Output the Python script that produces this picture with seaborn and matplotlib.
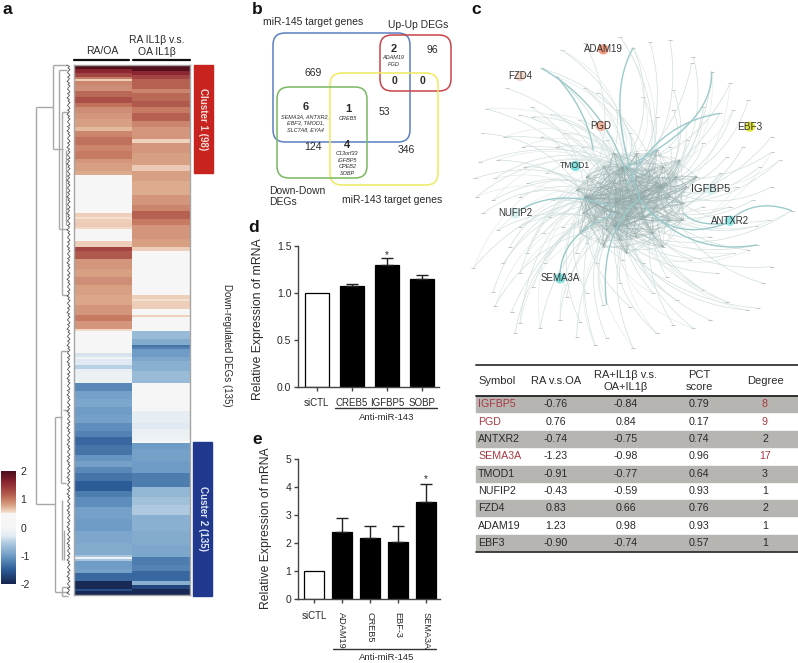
import numpy as np
import pandas as pd
import seaborn as sns
import matplotlib
matplotlib.use("Agg")
import matplotlib.pyplot as plt
from matplotlib.colors import LinearSegmentedColormap
from matplotlib.collections import LineCollection
from matplotlib.patches import FancyBboxPatch, Rectangle

sns.set_theme(style="white")
plt.rcParams['font.family'] = ['Liberation Sans', 'DejaVu Sans']

# ---------- panel a : heat map bands (value, number of rows) ----------
ra_vals = [1.95,1.6,1.35,1.0,.6,.95,.9,1.1,1.25,1.05,.9,.85,.8,.7,.95,1.05,.95,1.0,.85,.8,.75,0,.6,.52,.6,.62,.55,0,.6,
           1.35,1.2,.85,.8,.9,.8,.78,.85,1.0,.85,.55,0,-.35,-.1,-.3,-.5,-.2,-.15,
           -1.15,-.95,-.9,-1.0,-.95,-1.1,-1.2,-1.4,-1.3,-1.05,-.95,-1.15,-1.3,-1.5,-1.25,-1.1,-.95,-1.0,-.9,-.85,-.6,-.1,-.6,-1.0,-.95,-1.4,-1.95,-1.6,-1.95]
ra_rows = [2,2,2,1,1,2,3,3,3,2,3,3,4,2,3,4,3,4,2,4,2,19,2,1,2,2,1,6,3,
           2,4,5,4,4,5,5,5,3,4,1,11,2,1,3,2,2,5,
           4,4,4,4,4,4,3,4,5,3,3,3,4,5,3,5,6,6,6,6,1,1,1,4,2,4,4,1,2]
il_vals = [1.95,1.6,1.35,1.15,.95,1.1,1.2,1.0,1.15,.95,.85,.58,.85,.8,.62,.8,.75,.85,.95,1.15,1.0,.85,.8,.6,0,.6,.52,.6,0,.58,0,
           -.7,-.85,-1.3,-1.2,-1.0,-.9,-.8,-.7,0,-.25,-.3,-.2,-.1,0,
           -1.0,-.95,-1.0,-1.25,-.75,-.65,-.55,-.8,-.85,-.9,-1.25,-1.2,-1.4,-.8,-1.7,-1.95]
il_rows = [3,2,2,5,2,4,3,3,4,3,6,2,5,6,3,5,7,5,3,4,3,7,4,2,22,2,1,4,3,1,7,
           4,3,1,1,4,2,5,6,14,6,3,3,3,1,
           3,6,6,7,5,4,5,8,7,6,4,3,5,2,2,3]
col_labels = ["RA/OA", "RA IL1β v.s.\nOA IL1β"]
cbar_ticks = [2, 1, 0, -1, -2]
cbar_labels = ["2", "1", "0", "-1", "-2"]

# ---------- panel d / e ----------
d_genes = ["siCTL", "CREB5", "IGFBP5", "SOBP"]
d_vals = [1.0, 1.07, 1.30, 1.15]
d_errs = [0, .03, .07, .04]
e_genes = ["siCTL", "ADAM19", "CREB5", "EBF-3", "SEMA3A"]
e_vals = [1.0, 2.4, 2.17, 2.03, 3.45]
e_errs = [0, .5, .43, .57, .65]

# ---------- table ----------
tbl_head = ["Symbol", "RA v.s.OA", "RA+IL1β v.s.\nOA+IL1β", "PCT\nscore", "Degree"]
tbl_sym = ["IGFBP5", "PGD", "ANTXR2", "SEMA3A", "TMOD1", "NUFIP2", "FZD4", "ADAM19", "EBF3"]
tbl_ra = ["-0.76", "0.76", "-0.74", "-1.23", "-0.91", "-0.43", "0.83", "1.23", "-0.90"]
tbl_il = ["-0.84", "0.84", "-0.75", "-0.98", "-0.77", "-0.59", "0.66", "0.98", "-0.74"]
tbl_pct = ["0.79", "0.17", "0.74", "0.96", "0.64", "0.93", "0.76", "0.93", "0.57"]
tbl_deg = ["8", "9", "2", "17", "3", "1", "2", "1", "1"]
tbl_red = ["IGFBP5", "PGD", "SEMA3A"]

# ---------- network (zoomed coordinates) ----------
outer_nodes = [(275,150),(540,127),(490,143),(670,170),(725,215),(665,190),(385,278),(110,265),(345,265),(610,270),
 (50,327),(185,322),(245,343),(150,345),(190,350),(610,330),(700,320),(750,340),(790,330),(905,410),(905,457),(770,470),
 (650,420),(40,400),(105,410),(215,410),(285,400),(30,487),(85,480),(165,500),(160,440),(15,535),(75,535),(905,560),
 (965,632),(860,735),(858,678),(905,800),(835,750),(880,850),(830,930),(865,925),(770,905),(720,960),(670,985),(610,975),
 (560,1000),(480,920),(490,1045),(410,1015),(375,1035),(320,1010),(270,960),(330,965),(210,985),(135,1000),(150,970),
 (125,935),(75,918),(70,875),(10,805),(100,790),(170,760),(225,790),(85,690),(40,640),(70,600),(150,590),(20,590),
 (215,205),(260,230),(345,130),(450,110),(600,120),(780,250),(835,300),(820,440),(870,500),(930,480),(850,600),
 (800,560),(900,660),(790,760),(740,820),(700,870),(620,900),(550,880),(450,850),(400,915),(350,880),(290,890),
 (190,860),(150,820),(220,700),(150,680),(120,740),(240,650),(175,550),(230,520),(260,440),(330,360),(440,330),
 (520,290),(560,350),(650,370),(700,430),(750,520),(700,620),(780,620),(720,710),(660,780),(590,830),(520,790),
 (460,780),(380,790),(320,760),(350,730),(280,680),(250,600),(290,540),(340,440),(410,420),(480,400),(600,440)]
inner_nodes = [(460,500),(500,530),(540,510),(580,500),(620,530),(650,560),(600,590),(560,620),(520,650),(480,640),
 (440,640),(400,620),(360,600),(390,560),(430,550),(470,570),(530,570),(590,550),(640,610),(600,660),(550,700),(500,710),
 (450,720),(410,690),(370,670),(340,640),(320,570),(350,530),(400,500),(500,460),(560,450),(630,480),(680,530),(640,660),
 (580,740),(470,760),(400,740),(330,700),(430,460),(470,660)]
hubs = [(510,595),(440,605),(460,500),(575,560),(435,680),(345,590)]
thick_arcs = [(510,600,600,730,770,670),(770,670,850,590,965,632),(510,600,650,770,860,735),
 (510,595,385,700,410,915),(215,205,400,310,470,520),(260,230,350,330,370,450),(490,143,400,300,510,595),
 (725,215,730,370,470,500),(750,340,560,370,470,560),(440,640,270,700,270,830),(640,640,680,680,770,670),
 (135,640,250,560,430,620)]
named_nodes = ["ADAM19","FZD4","PGD","EBF3","TMOD1","IGFBP5","NUFIP2","ANTXR2","SEMA3A"]
named_x = [400,150,393,840,316,722,135,780,270]
named_y = [148,228,378,380,498,568,640,662,835]
named_col = ["#ef9a80","#f3d5c8","#f3b7a2","#e3e63a","#7fdede","#d5eeee","#d5f0f0","#8fe3e3","#7fe0e0"]
named_fs = [7,7,7,7.2,6.2,8,7,7,7]

W, H = 798, 663
fig = plt.figure(figsize=(W/100, H/100), dpi=100, facecolor="white")
def box(x0, y0, x1, y1, **kw):
    return fig.add_axes([x0/W, 1-y1/H, (x1-x0)/W, (y1-y0)/H], **kw)
TXT = "#2a2a2a"

# ---------- a ----------
cmap = LinearSegmentedColormap.from_list("rb", [
    (0.0, "#16244f"), (0.125, "#2c5c98"), (0.25, "#6e9cc6"), (0.375, "#b7cfe3"), (0.425, "#e2ebf2"),
    (0.5, "#f6f6f6"), (0.625, "#f6f6f6"), (0.63, "#f5e0d2"), (0.67, "#e6bda3"), (0.70, "#d9a283"), (0.72, "#d0917a"),
    (0.75, "#c67c62"), (0.80, "#b0584c"), (0.90, "#8c2530"), (1.0, "#4a0d1a")])
heat = pd.DataFrame({"RA/OA": np.repeat(ra_vals, ra_rows), "RA IL1b": np.repeat(il_vals, il_rows)})
ax_h = box(74, 65, 190, 595)
ax_c = box(1, 471, 16, 584)
sns.heatmap(heat, ax=ax_h, cmap=cmap, vmin=-2, vmax=2, cbar_ax=ax_c, xticklabels=False, yticklabels=False)
ax_h.set_xlabel(""); ax_h.set_ylabel("")
for s in ax_h.spines.values():
    s.set_visible(True); s.set_color("#a5a5a5"); s.set_linewidth(1)
ax_c.set_yticks(cbar_ticks); ax_c.set_yticklabels(cbar_labels)
ax_c.tick_params(length=0, labelsize=7.5, labelcolor=TXT, pad=3)
for s in ax_c.spines.values():
    s.set_visible(False)

# overlay in picture pixels, for annotation and layout furniture
ov = fig.add_axes([0, 0, 1, 1], zorder=5)
ov.set_xlim(0, W); ov.set_ylim(H, 0); ov.axis("off"); ov.patch.set_alpha(0)

dendro = [(36,107,36,504),(36,107,53,107),(36,504,55,504),(53,65,53,149),(53,65,67,65),(53,149,63,149),
          (59,70,59,229),(59,70,67,70),(59,229,67,229),(62,112,62,295),(62,112,68,112),(62,295,68,295),
          (66,150,66,225),(55,417,55,592),(55,417,62,417),(55,592,68,592),(61,351,61,483),(61,351,68,351),
          (61,483,66,483),(63,410,68,410),(62,500,62,560),(64,530,64,560),(62,587,62,596),(62,596,68,596),(62,587,68,587)]
for x0, y0, x1, y1 in dendro:
    ov.plot([x0, x1], [y0, y1], color="#a8a8a8", lw=1, solid_capstyle="butt")
fuzz_dx = [67, 69.5, 68, 70, 68.5, 67.5, 69, 70, 67.5, 69.5, 68.5]
fuzz_y = np.arange(65, 596, 1.5)
ov.plot([fuzz_dx[i % len(fuzz_dx)] for i in range(len(fuzz_y))], fuzz_y, color="#333333", lw=0.6, alpha=.85)

ov.text(102, 51, col_labels[0], ha="center", va="center", fontsize=7.5, color=TXT)
ov.text(157, 46, col_labels[1], ha="center", va="center", fontsize=7.5, color=TXT, linespacing=1.15)
ov.plot([74, 129], [60, 60], color="#111111", lw=1.6)
ov.plot([133, 190], [60, 60], color="#111111", lw=1.6)
ov.add_patch(Rectangle((194, 65), 19, 108, color="#c8241f"))
ov.add_patch(Rectangle((193, 442), 19, 154, color="#20398f"))
ov.text(203.5, 119, "Cluster 1 (98)", rotation=270, color="#f2dcd8", weight="bold", fontsize=7, ha="center", va="center")
ov.text(202.5, 518, "Custer 2 (135)", rotation=270, color="#dfe4f2", weight="bold", fontsize=7, ha="center", va="center")
ov.text(227, 345, "Down-regulated DEGs (135)", rotation=270, color=TXT, fontsize=7, ha="center", va="center")

for lab, x, y in [("a", 7, 9), ("b", 257, 9), ("c", 476, 9), ("d", 254, 228), ("e", 257, 440)]:
    ov.text(x, y, lab, fontsize=12.5, weight="bold", color="#111111", ha="center", va="center")

# ---------- b ----------
venn = [(273, 33, 410, 142, "#5b7fc0"), (380, 35, 451, 91, "#c8444a"),
        (330, 73, 438, 185, "#f0e860"), (277, 87, 367, 178, "#79b860")]
for x0, y0, x1, y1, c in venn:
    ov.add_patch(FancyBboxPatch((x0+12, y0+12), x1-x0-24, y1-y0-24, boxstyle="round,pad=12",
                                fc="none", ec=c, lw=1.1))
venn_text = [("miR-145 target genes",313.5,22,7.5,"normal","normal"),("Up-Up DEGs",418,24.7,7.5,"normal","normal"),
 ("669",312.7,73,7.5,"normal","normal"),("2",393.3,49,8,"bold","normal"),("ADAM19",393.3,57.3,4,"normal","italic"),
 ("PGD",393.3,64,4,"normal","italic"),("96",432.3,50,7.5,"normal","normal"),("0",394.7,80.7,7.5,"bold","normal"),
 ("0",423,80.7,7.5,"bold","normal"),("6",305.3,107.3,8,"bold","normal"),("SEMA3A, ANTXR2,",305.3,116.3,4,"normal","italic"),
 ("EBF3, TMOD1,",305.3,123,4,"normal","italic"),("SLC7A8, EYA4",305.3,129.3,4,"normal","italic"),("1",348.3,109.3,8,"bold","normal"),
 ("CREB5",348.3,118,4,"normal","italic"),("53",384.7,112,7.5,"normal","normal"),("124",313,147,7.5,"normal","normal"),
 ("4",346.7,145,8,"bold","normal"),("C13orf33",347.3,153.7,4,"normal","italic"),("IGFBP5",347.3,160,4,"normal","italic"),
 ("CPEB2",347.3,166.7,4,"normal","italic"),("SOBP",347.3,173.7,4,"normal","italic"),("346",406.7,150.3,7.5,"normal","normal"),
 ("miR-143 target genes",391.7,200,7.5,"normal","normal")]
for t, x, y, fs, w, st in venn_text:
    ov.text(x, y, t, fontsize=fs, weight=w, style=st, color=TXT, ha="center", va="center")
ov.text(268.7, 196.5, "Down-Down\nDEGs", fontsize=7.5, color=TXT, ha="left", va="center", linespacing=1.2)

# ---------- c ----------
ax_n = box(470, 0, 798, 350)
ax_n.set_xlim(0, 984); ax_n.set_ylim(1050, 0); ax_n.axis("off")
def arc(p0, c, p1):
    t = np.linspace(0, 1, 24)[:, None]
    p0, c, p1 = map(np.asarray, (p0, c, p1))
    return (1-t)**2*p0 + 2*t*(1-t)*c + t**2*p1
def swirl(p, h, k):
    p, h = np.asarray(p, float), np.asarray(h, float)
    d = h-p
    return (p+h)/2 + k*np.array([d[1], -d[0]])
thin = [arc(p, swirl(p, hubs[i % len(hubs)], .26), hubs[i % len(hubs)]) for i, p in enumerate(outer_nodes)]
thin2 = [arc(p, swirl(p, hubs[(i+2) % len(hubs)], .34), hubs[(i+2) % len(hubs)]) for i, p in enumerate(outer_nodes) if i % 2 == 0]
core = [arc(p, swirl(p, h, .18), h) for p in inner_nodes for h in hubs]
mesh = [arc(p, swirl(p, inner_nodes[(i+j) % len(inner_nodes)], .2), inner_nodes[(i+j) % len(inner_nodes)])
        for i, p in enumerate(inner_nodes) for j in (3, 7, 11, 16)]
ax_n.add_collection(LineCollection(thin, colors="#cfdedd", linewidths=.5))
ax_n.add_collection(LineCollection(thin2, colors="#dfe9e8", linewidths=.45))
ax_n.add_collection(LineCollection(mesh, colors="#a9bcbc", linewidths=.3, alpha=.75))
ax_n.add_collection(LineCollection(core, colors="#93a9a9", linewidths=.33, alpha=.75))
thick = [arc(a[:2], a[2:4], a[4:]) for a in thick_arcs]
ax_n.add_collection(LineCollection(thick, colors="#9ccacb", linewidths=1.0))
all_nodes = pd.DataFrame(outer_nodes + inner_nodes, columns=["x", "y"])
sns.scatterplot(data=all_nodes, x="x", y="y", ax=ax_n, marker="_", s=6, color="#a8a8a8", linewidth=.5, legend=False)
nd = pd.DataFrame({"x": named_x, "y": named_y, "n": named_nodes})
sns.scatterplot(data=nd, x="x", y="y", hue="n", palette=dict(zip(named_nodes, named_col)), ax=ax_n,
                s=55, linewidth=0, legend=False, zorder=3)
for n, x, y, fs in zip(named_nodes, named_x, named_y, named_fs):
    ax_n.text(x, y, n, fontsize=fs, color="#333333", ha="center", va="center", zorder=4)
ax_n.set_xlabel(""); ax_n.set_ylabel("")

# ---------- bars ----------
def bars(ax, genes, vals, errs, width, ylim, yticks, fmt):
    df = pd.DataFrame({"g": genes, "v": vals})
    pal = {g: ("white" if g == "siCTL" else "black") for g in genes}
    sns.barplot(data=df, x="g", y="v", hue="g", palette=pal, dodge=False, width=width, ax=ax,
                edgecolor="black", linewidth=.9, legend=False, saturation=1)
    ax.errorbar(range(1, len(genes)), vals[1:], yerr=[[0]*(len(genes)-1), errs[1:]], fmt="none",
                ecolor="#222222", elinewidth=1, capsize=4, capthick=1)
    ax.set_ylim(*ylim); ax.set_yticks(yticks); ax.set_yticklabels([fmt % t for t in yticks])
    ax.set_xlabel(""); ax.set_ylabel("")
    for s in ("top", "right"):
        ax.spines[s].set_visible(False)
    for s in ("left", "bottom"):
        ax.spines[s].set_color("#444444"); ax.spines[s].set_linewidth(1)
    ax.tick_params(left=True, bottom=True, length=3, width=1, color="#444444", labelsize=7.5, labelcolor=TXT, pad=2)

ax_d = box(298.3, 246, 439, 386.7)
bars(ax_d, d_genes, d_vals, d_errs, .68, (0, 1.5), [0, .5, 1, 1.5], "%.1f")
ax_d.set_xlim(-.526, 3.49)
ax_d.tick_params(axis="x", labelsize=7, pad=5)
ax_d.set_xticks(range(4)); ax_d.set_xticklabels(d_genes)
ax_d.text(2, 1.405, "*", ha="center", va="center", fontsize=7, color=TXT)
ov.text(258, 319, "Relative Expression of mRNA", rotation=90, fontsize=8.8, color=TXT, ha="center", va="center")
ov.plot([335, 437], [408, 408], color="#333333", lw=1)
ov.text(387, 417, "Anti-miR-143", fontsize=6.8, color=TXT, ha="center", va="center")

ax_e = box(298, 459, 440, 599.3)
bars(ax_e, e_genes, e_vals, e_errs, .69, (0, 5), [0, 1, 2, 3, 4, 5], "%d")
ax_e.set_xlim(-.57, 4.5)
ax_e.set_xticks(range(5)); ax_e.set_xticklabels([""]*5)
ov.text(314, 616, "siCTL", fontsize=7, color=TXT, ha="center", va="center")
for i, g in enumerate(e_genes[1:]):
    ax_e.annotate(g, (i+1, 0), xytext=(0, -9), textcoords="offset points", rotation=270,
                  fontsize=6.6, color=TXT, ha="center", va="top", annotation_clip=False)
ax_e.text(4, 4.3, "*", ha="center", va="center", fontsize=7, color=TXT)
ov.text(266, 528, "Relative Expression of mRNA", rotation=90, fontsize=8.8, color=TXT, ha="center", va="center")
ov.plot([333, 436], [649, 649], color="#333333", lw=1)
ov.text(387, 658, "Anti-miR-145", fontsize=6.8, color=TXT, ha="center", va="center")

# ---------- table ----------
rows = 404.3 + 17.33*np.arange(9)
col_x = [556, 626, 699, 765]
ov.plot([476, 798], [365, 365], color="#444444", lw=1.4)
ov.plot([476, 798], [396, 396], color="#222222", lw=1.3)
ov.plot([476, 798], [551.7, 551.7], color="#333333", lw=1.3)
for i, y in enumerate(rows):
    if i % 2 == 0:
        ov.add_patch(Rectangle((476, y-8.1), 322, 16.2, color="#b7b5b2", zorder=0))
    red = tbl_sym[i] in tbl_red
    ov.text(478, y, tbl_sym[i], fontsize=7.7, color="#a83a40" if red else TXT, ha="left", va="center")
    for x, c in zip(col_x, (tbl_ra, tbl_il, tbl_pct, tbl_deg)):
        col = "#a83a40" if (red and c is tbl_deg) else TXT
        ov.text(x, y, c[i], fontsize=7.7, color=col, ha="center", va="center")
ov.text(478, 381, tbl_head[0], fontsize=8, color=TXT, ha="left", va="center")
for x, h in zip(col_x, tbl_head[1:]):
    ov.text(x, 381, h, fontsize=8, color=TXT, ha="center", va="center", linespacing=1.2)

fig.savefig("out.png", dpi=100, facecolor="white")
